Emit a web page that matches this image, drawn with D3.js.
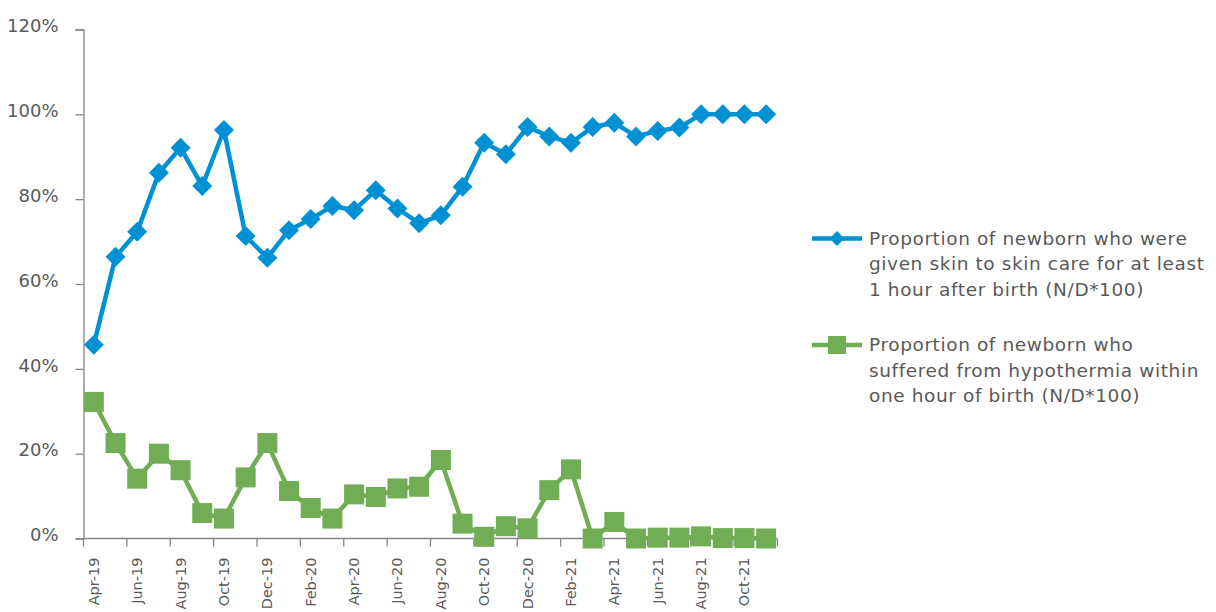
<!DOCTYPE html>
<html>
<head>
<meta charset="utf-8">
<script src="https://cdn.jsdelivr.net/npm/d3@7"></script>
<style>
  body { margin: 0; background: #fff; }
  text { font-family: "DejaVu Sans", sans-serif; fill: #595959; }
</style>
</head>
<body>
<div id="chart"></div>
<script>
// Data
const months = ['Apr-19', 'May-19', 'Jun-19', 'Jul-19', 'Aug-19', 'Sep-19', 'Oct-19', 'Nov-19', 'Dec-19',
    'Jan-20', 'Feb-20', 'Mar-20', 'Apr-20', 'May-20', 'Jun-20', 'Jul-20', 'Aug-20', 'Sep-20', 'Oct-20', 'Nov-20', 'Dec-20',
    'Jan-21', 'Feb-21', 'Mar-21', 'Apr-21', 'May-21', 'Jun-21', 'Jul-21', 'Aug-21', 'Sep-21', 'Oct-21', 'Nov-21'];

const skinToSkin = [45.7, 66.4, 72.3, 86.2, 92.1, 83.1, 96.3, 71.3, 66.2,
    72.7, 75.3, 78.4, 77.4, 82.1, 77.8, 74.3, 76.2, 82.9, 93.3, 90.6, 97.0,
    94.8, 93.3, 97.0, 98.0, 94.8, 96.1, 96.9, 100, 100, 100, 100];

const hypothermia = [32.2, 22.5, 14.1, 20.0, 16.1, 6.0, 4.7, 14.4, 22.5,
    11.2, 7.2, 4.7, 10.4, 9.8, 11.8, 12.2, 18.5, 3.5, 0.4, 2.9, 2.4,
    11.4, 16.3, 0, 3.9, 0, 0.2, 0.2, 0.5, 0.1, 0.1, 0];

const yTicks = [0, 20, 40, 60, 80, 100, 120];

const legendBlue = ['Proportion of newborn who were', 'given skin to skin care for at least', '1 hour after birth (N/D*100)'];
const legendGreen = ['Proportion of newborn who', 'suffered from hypothermia within', 'one hour of birth (N/D*100)'];

const blue = '#0091d5';
const green = '#70ad54';
const axisColor = '#868686';

const width = 1216, height = 612;

const svg = d3.select('#chart')
    .append('svg')
    .attr('width', width)
    .attr('height', height);

// Scales
const x = d3.scaleBand()
    .domain(months)
    .range([83, 777]);

const y = d3.scaleLinear()
    .domain([0, 120])
    .range([538.5, 29.5]);

const cx = d => x(d) + x.bandwidth() / 2;

// Y axis
const yAxis = svg.append('g')
    .attr('transform', 'translate(83.5,0)')
    .call(d3.axisLeft(y).tickValues(yTicks).tickSize(8).tickPadding(10).tickFormat(d => d + '%'));
yAxis.select('.domain').attr('stroke', axisColor).attr('stroke-width', 1.3);
yAxis.selectAll('.tick line').attr('stroke', axisColor).attr('stroke-width', 1.3);
yAxis.selectAll('.tick text')
    .style('font-size', '18px')
    .attr('x', -25)
    .attr('dy', '0.12em');

// X axis: tick marks at every second category boundary, labels at category centres
const xAxis = svg.append('g');
xAxis.append('line')
    .attr('x1', x.range()[0]).attr('x2', x.range()[1])
    .attr('y1', y(0)).attr('y2', y(0))
    .attr('stroke', axisColor).attr('stroke-width', 1.3);

const everyOther = months.filter((d, i) => i % 2 === 0);

xAxis.selectAll('.xtick')
    .data(everyOther.map(d => x(d)).concat([x.range()[1]]))
    .enter()
    .append('line')
    .attr('class', 'xtick')
    .attr('x1', d => d + 0.5).attr('x2', d => d + 0.5)
    .attr('y1', y(0)).attr('y2', y(0) + 8)
    .attr('stroke', axisColor).attr('stroke-width', 1.3);

xAxis.selectAll('.xlabel')
    .data(everyOther)
    .enter()
    .append('text')
    .attr('class', 'xlabel')
    .attr('transform', d => `translate(${cx(d) + 5},${y(0) + 19}) rotate(-90)`)
    .style('text-anchor', 'end')
    .style('font-size', '14.5px')
    .text(d => d);

// Lines
const line = d3.line()
    .x((d, i) => cx(months[i]))
    .y(d => y(d));

svg.append('path')
    .datum(hypothermia)
    .attr('fill', 'none')
    .attr('stroke', green)
    .attr('stroke-width', 4.5)
    .attr('stroke-linejoin', 'round')
    .attr('d', line);

svg.selectAll('.sq')
    .data(hypothermia)
    .enter()
    .append('rect')
    .attr('class', 'sq')
    .attr('x', (d, i) => cx(months[i]) - 10)
    .attr('y', d => y(d) - 10)
    .attr('width', 20)
    .attr('height', 20)
    .attr('fill', green);

svg.append('path')
    .datum(skinToSkin)
    .attr('fill', 'none')
    .attr('stroke', blue)
    .attr('stroke-width', 4.5)
    .attr('stroke-linejoin', 'round')
    .attr('d', line);

const diamond = d3.symbol().type(d3.symbolSquare).size(200);

svg.selectAll('.dm')
    .data(skinToSkin)
    .enter()
    .append('path')
    .attr('class', 'dm')
    .attr('d', diamond)
    .attr('transform', (d, i) => `translate(${cx(months[i])},${y(d)}) rotate(45)`)
    .attr('fill', blue);

// Legend
const legend = svg.append('g');

function legendItem(yPos, color, marker, lines) {
    legend.append('line')
        .attr('x1', 812).attr('x2', 862)
        .attr('y1', yPos).attr('y2', yPos)
        .attr('stroke', color).attr('stroke-width', 4.5);
    if (marker === 'diamond') {
        legend.append('path')
            .attr('d', d3.symbol().type(d3.symbolSquare).size(110))
            .attr('transform', `translate(837,${yPos}) rotate(45)`)
            .attr('fill', color);
    } else {
        legend.append('rect')
            .attr('x', 828).attr('y', yPos - 9)
            .attr('width', 18).attr('height', 18)
            .attr('fill', color);
    }
    legend.selectAll(null)
        .data(lines)
        .enter()
        .append('text')
        .attr('x', 869)
        .attr('y', (d, i) => yPos + i * 25.5)
        .attr('dy', '0.35em')
        .style('font-size', '18.5px')
        .style('letter-spacing', '0.6px')
        .text(d => d);
}

legendItem(238.5, blue, 'diamond', legendBlue);
legendItem(345, green, 'square', legendGreen);
</script>
</body>
</html>
